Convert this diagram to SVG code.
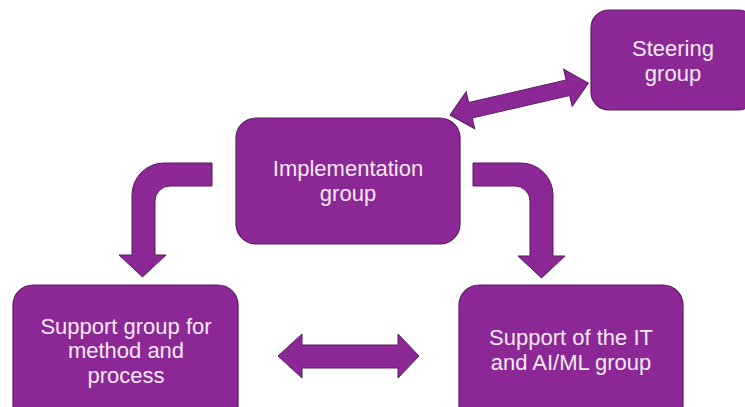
<svg xmlns="http://www.w3.org/2000/svg" width="745" height="407" viewBox="0 0 745 407">
  <style>
    .box { fill: #8C2896; stroke: #5C1A66; stroke-width: 1.2; }
    .arrow { fill: #8C2896; stroke: #5C1A66; stroke-width: 1; stroke-linejoin: miter; }
    .label { font-family: "Liberation Sans", Arial, sans-serif; font-size: 22px; fill: #F4E8F4; text-anchor: middle; }
  </style>
  <rect width="745" height="407" fill="#FFFFFF"/>

  <g id="connectors">
    <!-- Implementation <-> Steering -->
    <path class="arrow" transform="translate(450,115) rotate(-13)" d="M0,0 L21,-19 L21,-8 L121,-8 L121,-19 L142,0 L121,19 L121,8 L21,8 L21,19 Z"/>
    <!-- Implementation -> Support group for method and process -->
    <path class="arrow" d="M212,163 L164,163 A32,32 0 0 0 132,195 L132,255 L119,255 L142.5,277 L166,255 L155,255 L155,201 A15,15 0 0 1 170,186 L212,186 Z"/>
    <!-- Implementation -> Support of the IT and AI/ML group -->
    <path class="arrow" d="M473,163 L521,163 A32,32 0 0 1 553,195 L553,256 L565,256 L541.5,278 L518,256 L530,256 L530,201 A15,15 0 0 0 515,186 L473,186 Z"/>
    <!-- between the two support groups -->
    <path class="arrow" d="M278,356 L302,334 L302,345 L398,345 L398,334 L419,356 L398,378 L398,368 L302,368 L302,378 Z"/>
  </g>

  <g id="steering">
    <rect class="box" x="591" y="10" width="165" height="100" rx="18"/>
    <text class="label" x="673" y="56">Steering</text>
    <text class="label" x="673" y="81">group</text>
  </g>

  <g id="implementation">
    <rect class="box" x="236" y="118" width="224" height="126" rx="20"/>
    <text class="label" x="348" y="176">Implementation</text>
    <text class="label" x="348" y="201">group</text>
  </g>

  <g id="support-method">
    <rect class="box" x="13" y="285" width="225" height="140" rx="20"/>
    <text class="label" x="126" y="334">Support group for</text>
    <text class="label" x="126" y="358">method and</text>
    <text class="label" x="126" y="383">process</text>
  </g>

  <g id="support-it">
    <rect class="box" x="459" y="285" width="224" height="140" rx="20"/>
    <text class="label" x="571" y="345">Support of the IT</text>
    <text class="label" x="571" y="370">and AI/ML group</text>
  </g>
</svg>
